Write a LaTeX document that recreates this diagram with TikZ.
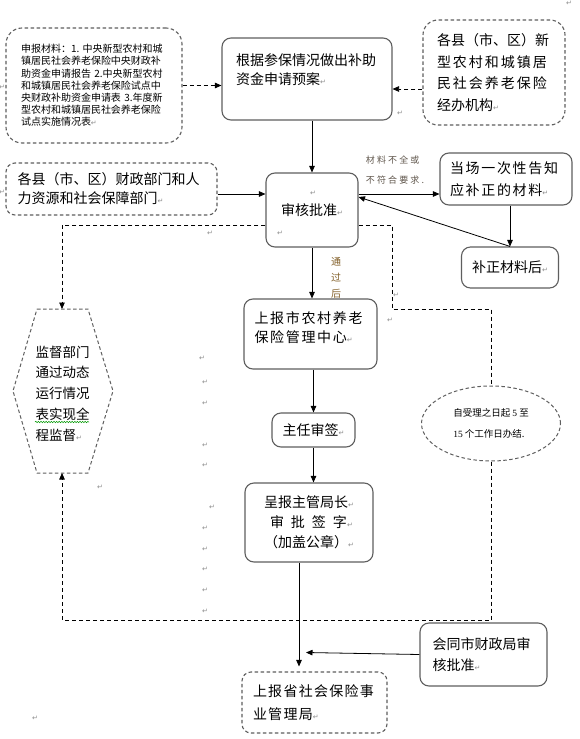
\documentclass[tikz,border=0pt]{standalone}
\usepackage{fontspec}
\setmainfont{Noto Sans CJK SC}
\newfontfamily\retfont{DejaVu Sans}
\newfontfamily\numfont{Liberation Serif}
\usetikzlibrary{calc,arrows.meta,shapes.geometric,decorations.pathmorphing}

\definecolor{boxgray}{RGB}{95,95,95}
\definecolor{markgray}{RGB}{140,140,140}
\definecolor{notegray}{RGB}{95,85,75}
\definecolor{notebrown}{RGB}{130,95,40}
\newcommand{\retmark}{{\retfont\fontsize{7}{7}\selectfont\textcolor{markgray}{↵}}}

\tikzset{
  >={Triangle[length=6.5pt,width=5.5pt]},
  box/.style={draw=boxgray, line width=1.1pt, rounded corners=9pt, inner sep=0pt,
    align=left, font=\fontsize{14}{19}\selectfont},
  dbox/.style={box, dash pattern=on 3.5pt off 2.5pt},
  dline/.style={line width=0.8pt, dash pattern=on 4pt off 3pt},
  arr/.style={->, line width=0.8pt},
  note/.style={inner sep=0pt, align=left},
}

\begin{document}
\begin{tikzpicture}[x=1pt, y=-1pt]
    \path[fill=white] (0,0) rectangle (579,739);
    \useasboundingbox (0,0) rectangle (579,739);

    % Top row
    \node[dbox, rounded corners=16pt, minimum width=176pt, minimum height=115pt, text width=146pt,
          font={\fontsize{10}{12.2}\selectfont}] (mat) at (94,85.5)
        {申报材料：1.~中央新型农村和城\\镇居民社会养老保险中央财政补\\助资金申请报告~2.中央新型农村\\和城镇居民社会养老保险试点中\\央财政补助资金申请表~3.年度新\\型农村和城镇居民社会养老保险\\试点实施情况表\retmark};
    \node[box, minimum width=170pt, minimum height=82pt, text width=142pt] (plan) at (307,79)
        {根据参保情况做出补助\\资金申请预案\retmark\\ \mbox{}};
    \node[dbox, rounded corners=15pt, minimum width=142pt, minimum height=105pt, text width=114pt,
          font={\fontsize{14}{21.7}\selectfont}] (jbjg) at (494,72.5)
        {各县（市、区）新\\{\addfontfeature{LetterSpace=14}型农村和城镇居}\\{\addfontfeature{LetterSpace=14}民社会养老保险}\\经办机构\retmark};

    % Review row
    \node[dbox, minimum width=211pt, minimum height=52pt, text width=188pt] (czbm) at (111.5,189)
        {各县（市、区）财政部门和人\\力资源和社会保障部门\retmark};
    \node[box, minimum width=92pt, minimum height=74pt, align=center] (shpz) at (312,210) {审核批准\retmark};
    \node[box, minimum width=132pt, minimum height=52pt, text width=112pt,
          font={\fontsize{14}{22}\selectfont\addfontfeature{LetterSpace=12}}] (gz) at (506,179)
        {当场一次性告知\\应补正的材料\retmark};
    \node[box, minimum width=97pt, minimum height=41pt] (bz) at (510,267.5) {补正材料后\retmark};
    \node[note, text=notegray, font={\fontsize{9}{20}\selectfont\addfontfeature{LetterSpace=24}}] (bq) at (395,170)
        {材料不全或\\不符合要求.};
    \node[note, text=notebrown, font={\fontsize{10}{16}\selectfont}] (tgh) at (336,278) {通\\过\\后};

    % Main column
    \node[box, minimum width=133pt, minimum height=70pt, text width=112pt,
          font={\fontsize{14}{19}\selectfont\addfontfeature{LetterSpace=12}}] (sbs) at (310.5,334)
        {上报市农村养老\\保险管理中心\retmark\\[-6pt]\mbox{}};
    \node[box, minimum width=83pt, minimum height=34pt] (zr) at (313.5,430) {主任审签\retmark};
    \node[box, minimum width=128pt, minimum height=79pt, text width=90pt,
          font={\fontsize{14}{20}\selectfont}] (cb) at (309,522.5)
        {呈报主管局长\retmark\\\hspace*{6pt}审\hspace*{7pt}批\hspace*{7pt}签\hspace*{7pt}字\retmark\\（加盖公章）\retmark};
    \node[box, minimum width=127pt, minimum height=63pt, text width=102pt,
          font={\fontsize{14}{21}\selectfont}] (ht) at (483.5,654.5)
        {会同市财政局审\\核批准\retmark};
    \node[dbox, minimum width=145pt, minimum height=61pt, text width=123pt,
          font={\fontsize{14}{23}\selectfont\addfontfeature{LetterSpace=9}}] (sbsheng) at (314.5,702.5)
        {上报省社会保险事\\业管理局\retmark};

    % Time limit
    \node[ellipse, draw=boxgray, dash pattern=on 3.5pt off 2.5pt, line width=1pt, minimum width=139pt,
          minimum height=75pt, inner sep=0pt, align=left, font={\fontsize{9.5}{21}\selectfont}] (ell) at (491,423.5)
        {自受理之日起~{\numfont 5}~至\\{\numfont 15}~个工作日办结.};

    % Supervision hexagon
    \draw[boxgray, line width=1pt, dash pattern=on 3.5pt off 2.5pt]
        (37,309) -- (88,309) -- (113,391) -- (88,473) -- (37,473) -- (13,391) -- cycle;
    \node[note, font={\fontsize{13.5}{20.8}\selectfont}] (jd) at (62.5,393.5)
        {监督部门\\通过动态\\运行情况\\表实现全\\程监督\retmark};
    \draw[green!60!black, line width=0.5pt, decorate, decoration={snake, amplitude=0.7pt, segment length=2.6pt}]
        (35,422) -- (89,422);
    \coordinate (hextop) at (62,309);
    \coordinate (hexbot) at (62,473);

    % Return marks
    \foreach \x/\y [count=\i] in {569/3, 400/113, 2/87, 2/192, 210/233, 280/233, 313/193, 396/295,
        390/320, 202/358, 205/382, 205/403, 205/445, 205/465, 100/487, 212/507, 205/528,
        205/549, 205/569, 205/590, 205/611, 35/718}
        \node[inner sep=0pt] (rm\i) at (\x,\y) {\retmark};

    % Inputs
    \draw[dline,->] (mat.east) -- (mat.east -| plan.west);
    \coordinate (j1) at ([yshift=-16.5pt]jbjg.west);
    \draw[dline,->] (j1) -- (j1 -| plan.east);
    \coordinate (c1) at ([yshift=-5pt]czbm.east);
    \draw[arr] (c1) -- (c1 -| shpz.west);

    % Review loop
    \draw[arr] (plan.south -| shpz.north) -- (shpz.north);
    \draw[arr] (c1 -| shpz.east) -- (c1 -| gz.west);
    \draw[arr] (gz.south -| bz.north) -- (bz.north);
    \draw[arr] (bz.north) -- ($(shpz.east)+(0,-13)$);

    % Main column
    \draw[arr] (shpz.south) -- (shpz.south |- sbs.north);
    \draw[arr] (sbs.south -| zr.north) -- (zr.north);
    \draw[arr] (zr.south) -- (zr.south |- cb.north);
    \coordinate (b1) at ([xshift=-10pt]cb.south);
    \draw[arr, shorten >=5pt] (b1) -- (b1 |- sbsheng.north);
    \draw[arr] (ht.west) -- ($(b1 |- ht.west)+(7,-2)$);

    % Supervision loop
    \coordinate (d1) at ([yshift=-15pt]shpz.west);
    \coordinate (r1) at (392,309);
    \coordinate (r2) at (62,620);
    \draw[dline,->] (d1) -| (hextop);
    \draw[dline] (d1 -| shpz.east) -| (r1) -| (ell.north);
    \draw[dline,->] (ell.south) |- (r2) -- (hexbot);
\end{tikzpicture}
\end{document}
